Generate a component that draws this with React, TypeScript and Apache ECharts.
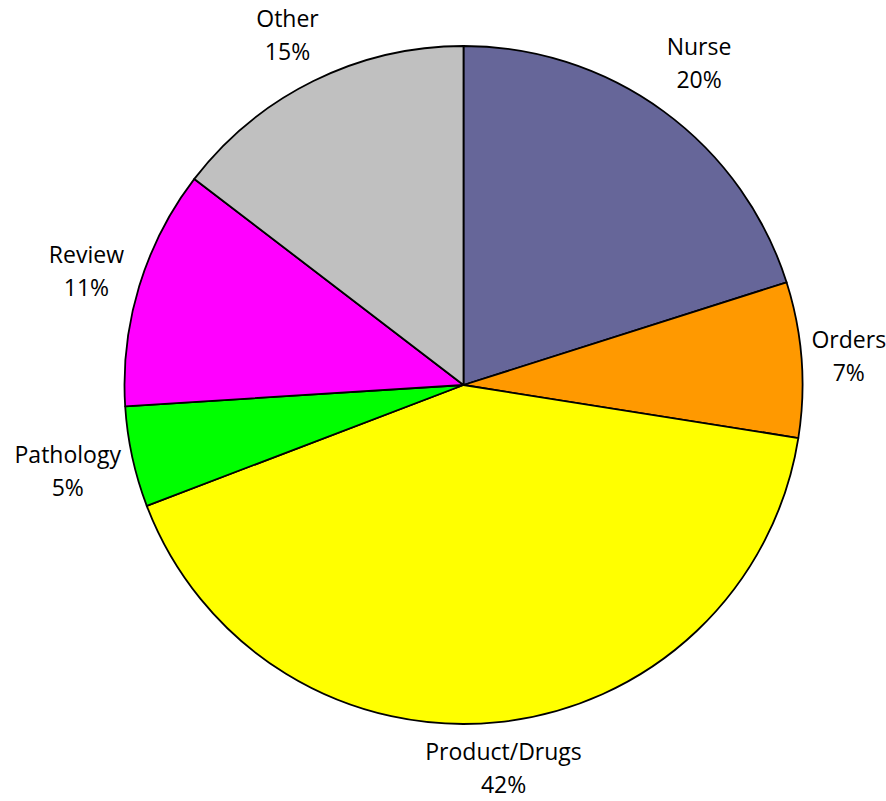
import React, { useEffect, useRef } from "react";
import * as echarts from "echarts";

const categories = ["Nurse", "Orders", "Product/Drugs", "Pathology", "Review", "Other"];
const values = [20.1, 7.4, 41.7, 4.8, 11.4, 14.6];
const colors = ["#666699", "#FF9900", "#FFFF00", "#00FF00", "#FF00FF", "#C0C0C0"];

const CX = 463.5;
const CY = 385;
const R = 339;
const GAP = 7;
const TOP_EXTRA = 9;
const H = 801;

export default function App() {
  const ref = useRef<HTMLDivElement>(null);
  useEffect(() => {
    if (!ref.current) return;
    const chart = echarts.init(ref.current, null, { renderer: "svg" });
    const total = values.reduce((a, b) => a + b, 0);
    const mids: number[] = [];
    let acc = 0;
    values.forEach((v) => {
      mids.push(((acc + v / 2) / total) * Math.PI * 2);
      acc += v;
    });
    chart.setOption({
      animation: false,
      backgroundColor: "#ffffff",
      series: [
        {
          type: "pie",
          center: [CX, CY],
          radius: [0, R],
          startAngle: 90,
          clockwise: true,
          percentPrecision: 0,
          avoidLabelOverlap: false,
          itemStyle: { borderColor: "#000000", borderWidth: 1.8 },
          label: {
            show: true,
            position: "outside",
            formatter: "{b}\n{d}%",
            fontFamily: "'Open Sans', Lato, sans-serif",
            fontSize: 23,
            lineHeight: 33,
            color: "#000000",
            align: "center",
          },
          labelLine: { show: false },
          labelLayout: (params: any) => {
            const a = mids[params.dataIndex];
            const s = Math.sin(a);
            const c = Math.cos(a);
            const w = params.labelRect.width;
            const h = params.labelRect.height;
            const r =
              R + GAP + TOP_EXTRA * Math.max(0, c) + (Math.abs(s) * w) / 2 + (Math.abs(c) * h) / 2;
            const x = CX + r * s;
            const y = Math.max(h / 2 + 1, Math.min(CY - r * c, H - h / 2 - 1));
            return { x, y, align: "center", verticalAlign: "middle" };
          },
          data: categories.map((name, i) => ({
            name,
            value: values[i],
            itemStyle: { color: colors[i] },
          })),
        },
      ],
    });
    return () => chart.dispose();
  }, []);
  return (
    <div
      ref={ref}
      style={{ position: "absolute", left: 0, top: 0, width: 886, height: 801 }}
    />
  );
}
